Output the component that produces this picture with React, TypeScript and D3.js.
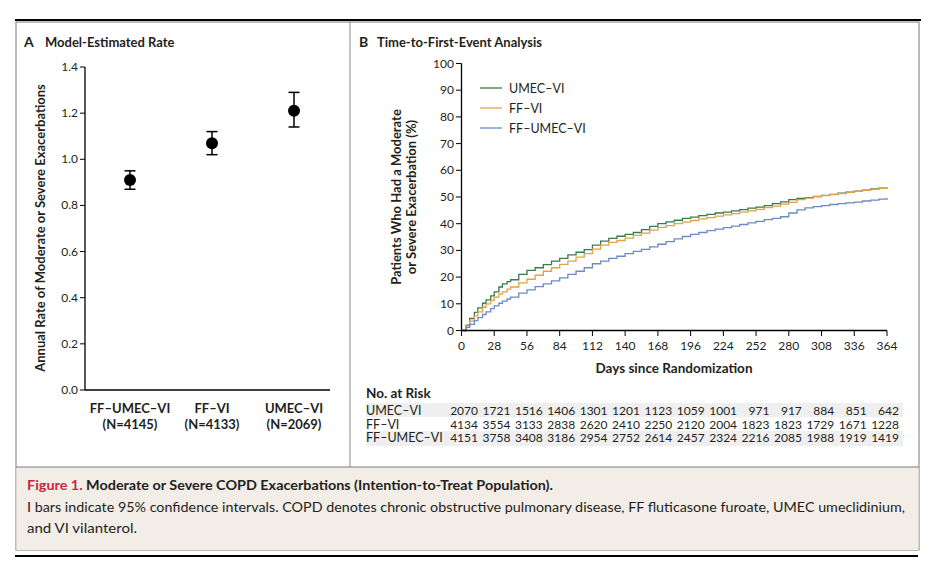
import React from "react";
import * as d3 from "d3";

// Panel A data
const categoriesA = ["FF–UMEC–VI", "FF–VI", "UMEC–VI"];
const countsA = ["(N=4145)", "(N=4133)", "(N=2069)"];
const ratesA = [0.91, 1.07, 1.21];
const lowerA = [0.87, 1.02, 1.14];
const upperA = [0.95, 1.12, 1.29];
const ticksA = [0, 0.2, 0.4, 0.6, 0.8, 1.0, 1.2, 1.4];

// Panel B data
const days = [0, 4, 7, 11, 14, 18, 21, 25, 28, 32, 35, 39, 42, 49, 56, 63, 70, 77, 84, 91, 98, 105, 112, 119, 126, 133, 140, 147, 154, 161, 168, 175, 182, 189, 196, 203, 210, 217, 224, 231, 238, 245, 252, 259, 266, 273, 280, 287, 294, 301, 308, 315, 322, 329, 336, 343, 350, 357, 364];
const umecVi = [0, 2, 4.5, 6.8, 8.5, 10.2, 11.5, 13, 14.5, 16.3, 17.5, 18.3, 19, 21, 22.5, 23.5, 24.7, 26, 27, 28.3, 29.3, 30.3, 32, 33.5, 34.5, 35.3, 36, 36.7, 37.8, 39, 40, 40.7, 41.3, 42, 42.5, 43, 43.5, 44, 44.3, 44.8, 45.3, 45.8, 46.2, 46.8, 47.5, 48.2, 49, 49.5, 49.8, 50.2, 50.6, 51, 51.4, 51.8, 52.2, 52.6, 53, 53.3, 53.6];
const ffVi = [0, 1.7, 3.5, 5.5, 7, 8.7, 10, 11.3, 12.5, 13.6, 14.5, 15.5, 16.3, 17.8, 19.2, 20.7, 22.2, 23.5, 24.8, 26, 27.5, 28.8, 30.5, 32, 33, 33.7, 34.6, 35.6, 36.5, 37.6, 38.6, 39.3, 40, 40.6, 41.2, 41.8, 42.3, 42.8, 43.3, 43.8, 44.3, 44.8, 45.4, 46, 46.6, 47.3, 48, 49, 49.6, 50.1, 50.5, 50.9, 51.3, 51.7, 52.1, 52.5, 52.9, 53.2, 53.5];
const ffUmecVi = [0, 1.2, 2.3, 3.7, 4.8, 6, 7, 8.2, 9.2, 10.2, 11, 11.8, 12.5, 14, 15.2, 16.4, 17.5, 18.6, 19.7, 21, 22.2, 23.5, 25, 26, 27, 27.8, 28.8, 29.6, 30.4, 31.3, 32.3, 33.3, 34.3, 35.2, 36, 36.7, 37.4, 38, 38.5, 39.1, 39.7, 40.3, 40.9, 41.5, 42, 42.6, 44, 45.2, 45.9, 46.4, 46.8, 47.2, 47.5, 47.8, 48.1, 48.5, 48.8, 49.2, 49.6];
const seriesNames = ["UMEC–VI", "FF–VI", "FF–UMEC–VI"];
const seriesColors = ["#3a7a4c", "#e0a24c", "#6a8bc6"];
const xTicksB = [0, 28, 56, 84, 112, 140, 168, 196, 224, 252, 280, 308, 336, 364];
const yTicksB = [0, 10, 20, 30, 40, 50, 60, 70, 80, 90, 100];

// No. at risk
const riskLabels = ["UMEC–VI", "FF–VI", "FF–UMEC–VI"];
const riskUmecVi = [2070, 1721, 1516, 1406, 1301, 1201, 1123, 1059, 1001, 971, 917, 884, 851, 642];
const riskFfVi = [4134, 3554, 3133, 2838, 2620, 2410, 2250, 2120, 2004, 1823, 1823, 1729, 1671, 1228];
const riskFfUmecVi = [4151, 3758, 3408, 3186, 2954, 2752, 2614, 2457, 2324, 2216, 2085, 1988, 1919, 1419];

const FONT = "Lato, 'Open Sans', sans-serif";
const INK = "#231f20";

export default function App() {
  // Panel A scales
  const yA = d3.scaleLinear().domain([0, 1.4]).range([390, 67]);
  const xA = d3.scalePoint<string>().domain(categoriesA).range([130, 294]);

  // Panel B scales
  const xB = d3.scaleLinear().domain([0, 364]).range([461.5, 887]);
  const yB = d3.scaleLinear().domain([0, 100]).range([330.5, 63.5]);
  const xRisk = d3.scaleLinear().domain([0, 364]).range([478, 899]);

  const seriesVals = [umecVi, ffVi, ffUmecVi];
  const line = d3
    .line<[number, number]>()
    .x((d) => xB(d[0]))
    .y((d) => yB(d[1]))
    .curve(d3.curveStepAfter);

  const riskRows = [riskUmecVi, riskFfVi, riskFfUmecVi];
  const riskBaselines = [415, 428.5, 442];

  return (
    <svg
      width={943}
      height={579}
      style={{ position: "absolute", left: 0, top: 0, background: "#fff" }}
      fontFamily={FONT}
    >
      {/* frame */}
      <line x1={15} x2={921} y1={20} y2={20} stroke="#000" strokeWidth={2} />
      <rect x={16} y={22} width={903} height={528} fill="none" stroke="#7a7a7a" strokeWidth={1} />
      <line x1={350} x2={350} y1={22} y2={467} stroke="#8a8a8a" strokeWidth={1} />
      <rect x={16.5} y={467} width={902} height={83} fill="#f3ede8" />
      <line x1={16} x2={919} y1={467} y2={467} stroke="#7a7a7a" strokeWidth={1} />
      <line x1={15} x2={918} y1={556} y2={556} stroke="#000" strokeWidth={2} />

      {/* Panel A */}
      <text x={24} y={47} fontSize={14} fontWeight={700} fill={INK}>A</text>
      <text x={45} y={47} fontSize={13} fontWeight={700} fill={INK}>Model-Estimated Rate</text>
      <line x1={85} x2={85} y1={yA(1.4)} y2={yA(0)} stroke="#000" strokeWidth={1.3} />
      <line x1={85} x2={330} y1={yA(0)} y2={yA(0)} stroke="#000" strokeWidth={1.3} />
      {ticksA.map((t) => (
        <g key={t}>
          <line x1={80} x2={85} y1={yA(t)} y2={yA(t)} stroke="#000" strokeWidth={1} />
          <text x={78} y={yA(t) + 4} fontSize={12} textAnchor="end" fill={INK}>
            {t.toFixed(1)}
          </text>
        </g>
      ))}
      <text
        transform="translate(45,228) rotate(-90)"
        fontSize={13}
        fontWeight={700}
        textAnchor="middle"
        fill={INK}
      >
        Annual Rate of Moderate or Severe Exacerbations
      </text>
      {categoriesA.map((c, i) => {
        const x = xA(c) as number;
        return (
          <g key={c}>
            <line x1={x} x2={x} y1={yA(lowerA[i])} y2={yA(upperA[i])} stroke="#000" strokeWidth={1.5} />
            <line x1={x - 5.5} x2={x + 5.5} y1={yA(lowerA[i])} y2={yA(lowerA[i])} stroke="#000" strokeWidth={1.5} />
            <line x1={x - 5.5} x2={x + 5.5} y1={yA(upperA[i])} y2={yA(upperA[i])} stroke="#000" strokeWidth={1.5} />
            <circle cx={x} cy={yA(ratesA[i])} r={6} fill="#000" />
            <text x={x} y={413} fontSize={13} fontWeight={700} textAnchor="middle" fill={INK}>{c}</text>
            <text x={x} y={429} fontSize={13} fontWeight={700} textAnchor="middle" fill={INK}>{countsA[i]}</text>
          </g>
        );
      })}

      {/* Panel B */}
      <text x={359} y={47} fontSize={14} fontWeight={700} fill={INK}>B</text>
      <text x={377} y={47} fontSize={13} fontWeight={700} fill={INK}>Time-to-First-Event Analysis</text>
      {seriesVals.map((vals, s) => (
        <path
          key={s}
          d={line(days.map((d, i) => [d, vals[i]] as [number, number])) || ""}
          fill="none"
          stroke={seriesColors[s]}
          strokeWidth={1.3}
        />
      ))}
      <line x1={461.5} x2={461.5} y1={yB(100)} y2={yB(0)} stroke="#000" strokeWidth={1.3} />
      <line x1={461.5} x2={xB(364)} y1={yB(0)} y2={yB(0)} stroke="#000" strokeWidth={1.3} />
      {yTicksB.map((t) => (
        <g key={t}>
          <line x1={456} x2={461.5} y1={yB(t)} y2={yB(t)} stroke="#000" strokeWidth={1} />
          <text x={454} y={yB(t) + 4} fontSize={12} textAnchor="end" fill={INK}>{t}</text>
        </g>
      ))}
      {xTicksB.map((t) => (
        <g key={t}>
          <line x1={xB(t)} x2={xB(t)} y1={yB(0)} y2={yB(0) + 5.5} stroke="#000" strokeWidth={1} />
          <text x={xB(t)} y={350} fontSize={12} textAnchor="middle" fill={INK}>{t}</text>
        </g>
      ))}
      <text x={674} y={373} fontSize={13.5} fontWeight={700} textAnchor="middle" fill={INK}>
        Days since Randomization
      </text>
      <text transform="translate(401,197) rotate(-90)" fontSize={13} fontWeight={700} textAnchor="middle" fill={INK}>
        Patients Who Had a Moderate
      </text>
      <text transform="translate(416,197) rotate(-90)" fontSize={13} fontWeight={700} textAnchor="middle" fill={INK}>
        or Severe Exacerbation (%)
      </text>
      {seriesNames.map((n, i) => (
        <g key={n}>
          <line x1={480} x2={502} y1={88 + i * 20} y2={88 + i * 20} stroke={seriesColors[i]} strokeWidth={1.3} />
          <text x={509} y={92.5 + i * 20} fontSize={12.5} fill={INK}>{n}</text>
        </g>
      ))}

      {/* No. at risk */}
      <text x={366} y={398} fontSize={13.5} fontWeight={700} fill={INK}>No. at Risk</text>
      <rect x={366} y={403} width={537} height={14} fill="#efefef" />
      <rect x={366} y={431} width={537} height={15} fill="#efefef" />
      {riskRows.map((row, r) => (
        <g key={r}>
          <text x={366} y={riskBaselines[r]} fontSize={12.5} fill={INK}>{riskLabels[r]}</text>
          {row.map((v, i) => (
            <text key={i} x={xRisk(xTicksB[i])} y={riskBaselines[r]} fontSize={12} textAnchor="end" fill={INK}>
              {v}
            </text>
          ))}
        </g>
      ))}

      {/* Caption */}
      <text x={27} y={490} fontSize={14} fontWeight={700} textLength={526} lengthAdjust="spacingAndGlyphs">
        <tspan fill="#c8283c">Figure 1.</tspan>
        <tspan fill={INK}> Moderate or Severe COPD Exacerbations (Intention-to-Treat Population).</tspan>
      </text>
      <text x={27} y={512} fontSize={14} fill={INK} textLength={878} lengthAdjust="spacingAndGlyphs">
        I bars indicate 95% confidence intervals. COPD denotes chronic obstructive pulmonary disease, FF fluticasone furoate, UMEC umeclidinium,
      </text>
      <text x={27} y={533} fontSize={14} fill={INK} textLength={110} lengthAdjust="spacingAndGlyphs">
        and VI vilanterol.
      </text>
    </svg>
  );
}
